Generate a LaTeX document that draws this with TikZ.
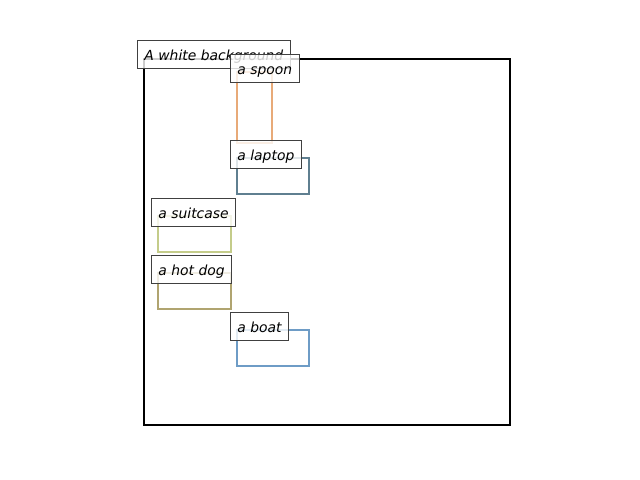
\documentclass[tikz,border=0pt]{standalone}
\usepackage{fontspec}
\setmainfont{DejaVu Sans}
\definecolor{spoonc}{HTML}{E8AA78}
\definecolor{laptopc}{HTML}{5F7F90}
\definecolor{suitc}{HTML}{C4CC8A}
\definecolor{hotdogc}{HTML}{B0A470}
\definecolor{boatc}{HTML}{6E9CC6}
\definecolor{lblborder}{HTML}{404040}
\begin{document}
\begin{tikzpicture}[x=0.72pt,y=-0.72pt,
  frame/.style={draw=black,line width=1.6pt},
  bbox/.style={line width=2.1pt},
  lbl/.style={draw=lblborder,line width=0.72pt,fill=white,fill opacity=0.8,text opacity=1,
    anchor=north west,inner xsep=5pt,inner ysep=0pt,text height=14.2pt,text depth=5.96pt,
    font=\fontsize{10pt}{12pt}\selectfont\itshape}]
\useasboundingbox (0,0) rectangle (640,480);
\draw[frame] (144,59) rectangle (510,425);
\draw[bbox,draw=spoonc] (237,72) rectangle (272,143);
\draw[bbox,draw=laptopc] (237,158) rectangle (309,194);
\draw[bbox,draw=suitc] (158,216) rectangle (231,252);
\draw[bbox,draw=hotdogc] (158,273) rectangle (231,309);
\draw[bbox,draw=boatc] (237,330) rectangle (309,366);
\node[lbl] (bg) at (137,40) {A white background};
\node[lbl] (spoon) at (230,54) {a spoon};
\node[lbl] (laptop) at (230,140) {a laptop};
\node[lbl] (suitcase) at (151,198) {a suitcase};
\node[lbl] (hotdog) at (151,255) {a hot dog};
\node[lbl] (boat) at (230,312) {a boat};
\end{tikzpicture}
\end{document}
